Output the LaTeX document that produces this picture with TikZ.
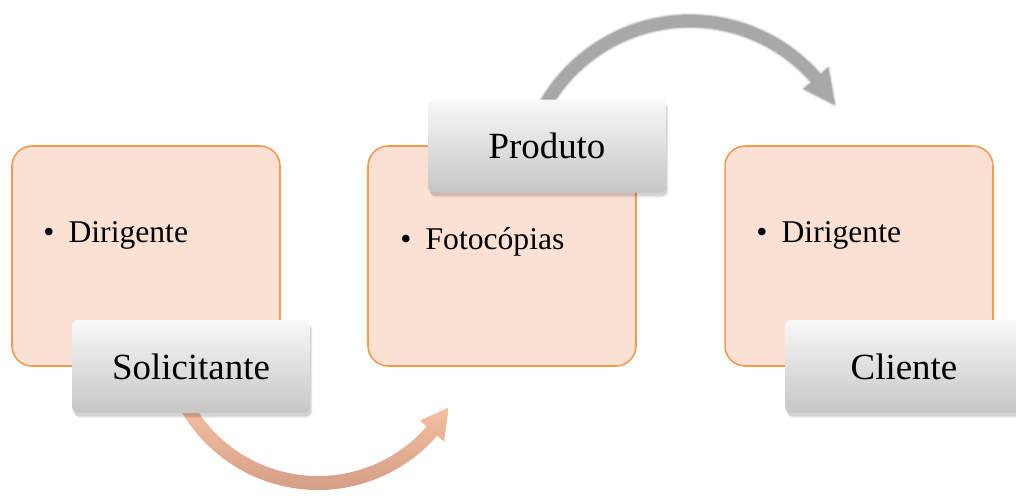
\documentclass[tikz,border=0pt]{standalone}
\usepackage{fontspec}
\setmainfont{Liberation Serif}
\usetikzlibrary{calc,shadows}
\definecolor{boxfill}{HTML}{FBE0D4}
\definecolor{boxline}{HTML}{F79A4E}
\definecolor{tagtop}{HTML}{F8F8F8}
\definecolor{tagbottom}{HTML}{C6C6C6}
\definecolor{arrowtop}{HTML}{FAC4A4}
\definecolor{arrowbottom}{HTML}{D39D86}
\definecolor{arrowgrey}{HTML}{A8A8A8}
\tikzset{
  infobox/.style={draw=boxline, line width=0.9pt, fill=boxfill, rounded corners=0.4cm,
    minimum width=5.36cm, minimum height=4.4cm, inner sep=0pt},
  tagbox/.style={rounded corners=0.12cm, top color=tagtop, bottom color=tagbottom,
    minimum width=4.76cm, minimum height=1.86cm, inner sep=0pt,
    font=\fontsize{21}{24}\selectfont,
    general shadow={shadow xshift=0.03cm, shadow yshift=-0.07cm, fill=black, opacity=0.12},
    general shadow={shadow xshift=0.05cm, shadow yshift=-0.10cm, fill=black, opacity=0.06}},
  itemtext/.style={anchor=base west, inner sep=0pt, font=\fontsize{18}{21}\selectfont},
}
\newcommand{\toparc}{($(ctop)+(152:173)$) arc[start angle=152,end angle=41,radius=173]
  -- ($(ctop)+(41:183)$) -- ($(ctop)+(30:167)$) -- ($(ctop)+(41:151)$)
  -- ($(ctop)+(41:161)$) arc[start angle=41,end angle=152,radius=161] -- cycle}
\begin{document}
\begin{tikzpicture}[x=0.02cm,y=0.02cm]
\useasboundingbox (0,0) rectangle (1016,-495);

% the three rounded content boxes
\node[infobox] (b1) at (146,-256) {};
\node[infobox] (b2) at (502,-256) {};
\node[infobox] (b3) at (859,-256) {};

% bulleted entries
\node[itemtext] (t1) at (43,-242) {\textbullet\hspace{0.45em}Dirigente};
\node[itemtext] (t2) at (400,-249) {\textbullet\hspace{0.45em}Fotocópias};
\node[itemtext] (t3) at (756,-242) {\textbullet\hspace{0.45em}Dirigente};

% curved connectors
\coordinate (cbot) at (318,-332);
\coordinate (ctop) at (690,-188);
\shade[top color=arrowtop, bottom color=arrowbottom]
  ($(cbot)+(205:158)$) arc[start angle=205,end angle=319,radius=158]
  -- ($(cbot)+(319:167)$) -- ($(cbot)+(330:151)$) -- ($(cbot)+(319:135)$)
  -- ($(cbot)+(319:144)$) arc[start angle=319,end angle=205,radius=144] -- cycle;
\draw[arrowgrey, line width=2.2pt, opacity=0.25, line join=round] \toparc;
\draw[arrowgrey, line width=1pt, opacity=0.5, line join=round] \toparc;
\fill[arrowgrey] \toparc;

% stage labels
\node[tagbox] (l1) at (191,-366.5) {Solicitante};
\node[tagbox] (l2) at (547,-146) {Produto};
\node[tagbox] (l3) at (904,-366.5) {Cliente};
\end{tikzpicture}
\end{document}
